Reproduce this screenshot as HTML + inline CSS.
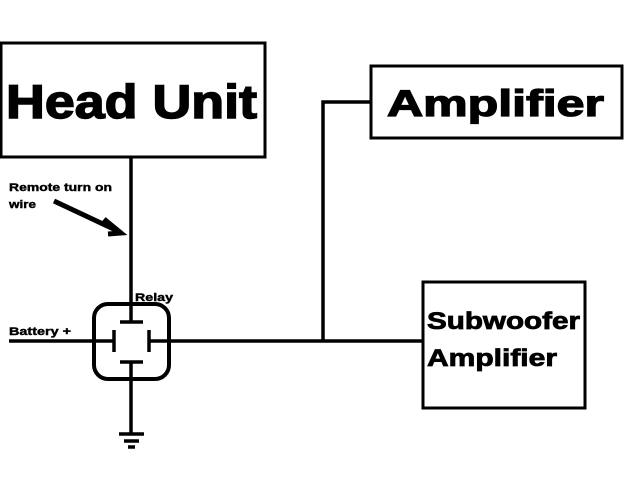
<!DOCTYPE html>
<html><head><style>body{margin:0;background:#fff}svg{display:block}</style></head><body>
<svg width="640" height="480" viewBox="0 0 640 480" xmlns="http://www.w3.org/2000/svg">
<g fill="none" stroke="#000" stroke-width="3">
<rect x="1" y="43" width="264" height="114"/>
<rect x="371" y="66" width="251" height="72"/>
<rect x="423" y="282" width="162" height="126"/>
<rect x="94" y="304" width="75" height="75" rx="14" stroke-width="4"/>
<path d="M131 157V322M120 322H143M114 330V352M149 330V352M120 362H143M131 362V434M9 341H114M149 341H423M323 341V102H371" stroke-width="3.5"/>
<path d="M119 434H144M124 441H139M128 447H135" stroke-width="3.5"/>
<path d="M54 201L120 232M104 219L121 233L108 234" stroke-width="5"/>
</g>
<g font-family="'Liberation Sans',sans-serif" font-weight="bold" fill="#000" stroke="#000" lengthAdjust="spacingAndGlyphs">
<text x="6" y="118" font-size="47" stroke-width="1.5" textLength="251" lengthAdjust="spacingAndGlyphs">Head Unit</text>
<text x="387" y="116" font-size="37" stroke-width="1.3" textLength="217" lengthAdjust="spacingAndGlyphs">Amplifier</text>
<text x="427" y="329" font-size="24" stroke-width="0.8" textLength="153" lengthAdjust="spacingAndGlyphs">Subwoofer</text>
<text x="427" y="366" font-size="24" stroke-width="0.8" textLength="130" lengthAdjust="spacingAndGlyphs">Amplifier</text>
<text x="9" y="191" font-size="11" stroke-width="0.4" textLength="103" lengthAdjust="spacingAndGlyphs">Remote turn on</text>
<text x="9" y="208" font-size="11" stroke-width="0.4" textLength="27" lengthAdjust="spacingAndGlyphs">wire</text>
<text x="9" y="335" font-size="11" stroke-width="0.4" textLength="62" lengthAdjust="spacingAndGlyphs">Battery +</text>
<text x="135" y="301" font-size="11" stroke-width="0.4" textLength="38" lengthAdjust="spacingAndGlyphs">Relay</text>
</g>
</svg>
</body></html>
